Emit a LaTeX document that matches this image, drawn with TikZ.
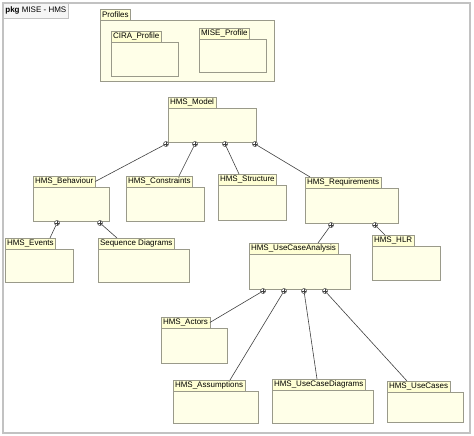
\documentclass[tikz,border=0pt]{standalone}
\usepackage{fontspec}
\setmainfont{Liberation Sans}
\usetikzlibrary{shadows}
\definecolor{pkgfill}{HTML}{FFFFE8}
\definecolor{tabfill}{HTML}{FFFFD4}
\definecolor{pkgline}{HTML}{9A9A8A}
\definecolor{frameline}{HTML}{C2C2C2}
\tikzset{
  body/.style={draw=pkgline, fill=pkgfill, line width=0.8pt, inner sep=0pt, outer sep=0pt,
    drop shadow={shadow xshift=0.9pt, shadow yshift=-0.9pt, fill=black!40, opacity=0.5}},
  tab/.style={draw=pkgline, fill=tabfill, line width=0.8pt, inner xsep=2pt, inner ysep=0pt,
    outer sep=0pt, minimum height=11pt, font=\fontsize{8}{9}\selectfont},
  nest/.style={circle, draw=black!75, fill=white, inner sep=0pt, minimum size=5pt, line width=0.5pt,
    path picture={\draw[black!75, line width=0.4pt]
      (path picture bounding box.north) -- (path picture bounding box.south)
      (path picture bounding box.west) -- (path picture bounding box.east);}},
  link/.style={draw=black!75, line width=0.6pt}
}
% package = body box with its name tab on top
\newcommand{\umlpkg}[6]{%
  \node[body, anchor=north west, minimum width=#5pt, minimum height=#6pt] (#1) at (#3,#4) {};
  \node[tab, anchor=south west] (#1-tab) at (#1.north west) {#2};
}

\begin{document}
\begin{tikzpicture}[x=1pt, y=-1pt]
	\useasboundingbox (0,0) rectangle (474,436);

	% outer frame
	\draw[frameline, line width=1.2pt] (3,3) rectangle (470,433);
	\node[draw=frameline, fill=black!4, line width=0.8pt, anchor=north west, inner xsep=2pt,
	  minimum height=15pt, font=\fontsize{8}{9}\selectfont] (frame-tab) at (3,3)
	  {\textbf{pkg} MISE - HMS};

	% profiles
	\umlpkg{profiles}{Profiles}{100}{20}{174}{61}
	\umlpkg{cira}{CIRA\_Profile}{111}{42}{67}{34}
	\umlpkg{mise}{MISE\_Profile}{199}{39}{67}{33}

	% model tree
	\umlpkg{model}{HMS\_Model}{168}{108}{88}{34}
	\umlpkg{behaviour}{HMS\_Behaviour}{33}{187}{76}{34}
	\umlpkg{constraints}{HMS\_Constraints}{126}{187}{78}{34}
	\umlpkg{structure}{HMS\_Structure}{218}{185}{68}{35}
	\umlpkg{requirements}{HMS\_Requirements}{305}{188}{93}{35}
	\umlpkg{events}{HMS\_Events}{5}{249}{68}{33}
	\umlpkg{sequence}{Sequence Diagrams}{98}{249}{91}{33}
	\umlpkg{uca}{HMS\_UseCaseAnalysis}{249}{254}{101}{35}
	\umlpkg{hlr}{HMS\_HLR}{372}{246}{68}{34}
	\umlpkg{actors}{HMS\_Actors}{161}{328}{66}{35}
	\umlpkg{assumptions}{HMS\_Assumptions}{173}{391}{85}{32}
	\umlpkg{ucd}{HMS\_UseCaseDiagrams}{272}{390}{101}{33}
	\umlpkg{usecases}{HMS\_UseCases}{387}{392}{76}{30}

	% nesting marks
	\node[nest] (model-n1) at (166,144) {};
	\node[nest] (model-n2) at (195,144) {};
	\node[nest] (model-n3) at (225,144) {};
	\node[nest] (model-n4) at (255,144) {};
	\node[nest] (behaviour-n1) at (57,223) {};
	\node[nest] (behaviour-n2) at (100,223) {};
	\node[nest] (requirements-n1) at (331,225) {};
	\node[nest] (requirements-n2) at (375,225) {};
	\node[nest] (uca-n1) at (263,291) {};
	\node[nest] (uca-n2) at (284,291) {};
	\node[nest] (uca-n3) at (304,291) {};
	\node[nest] (uca-n4) at (325,291) {};

	% nesting lines
	\draw[link] (model-n1) -- (behaviour-tab.east);
	\draw[link] (model-n2) -- (179,0 |- constraints-tab.north);
	\draw[link] (model-n3) -- (239,0 |- structure-tab.north);
	\draw[link] (model-n4) -- (310,0 |- requirements-tab.north);
	\draw[link] (behaviour-n1) -- (50,0 |- events-tab.north);
	\draw[link] (behaviour-n2) -- (117,0 |- sequence-tab.north);
	\draw[link] (requirements-n1) -- (318,0 |- uca-tab.north);
	\draw[link] (requirements-n2) -- (385,0 |- hlr-tab.north);
	\draw[link] (uca-n1) -- (actors-tab.east);
	\draw[link] (uca-n2) -- (230,0 |- assumptions-tab.north);
	\draw[link] (uca-n3) -- (317,0 |- ucd-tab.north);
	\draw[link] (uca-n4) -- (407,0 |- usecases-tab.north);
\end{tikzpicture}
\end{document}
